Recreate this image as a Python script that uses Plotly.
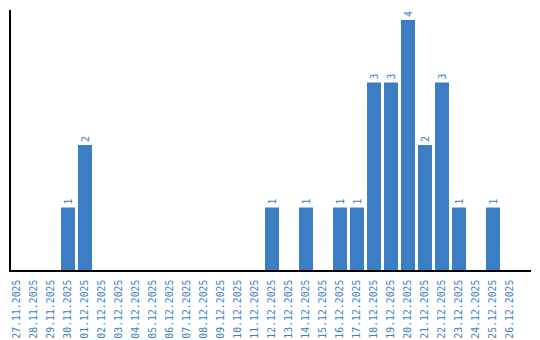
import plotly.graph_objects as go

dates = ["27.11.2025", "28.11.2025", "29.11.2025", "30.11.2025", "01.12.2025",
         "02.12.2025", "03.12.2025", "04.12.2025", "05.12.2025", "06.12.2025",
         "07.12.2025", "08.12.2025", "09.12.2025", "10.12.2025", "11.12.2025",
         "12.12.2025", "13.12.2025", "14.12.2025", "15.12.2025", "16.12.2025",
         "17.12.2025", "18.12.2025", "19.12.2025", "20.12.2025", "21.12.2025",
         "22.12.2025", "23.12.2025", "24.12.2025", "25.12.2025", "26.12.2025"]
counts = [0, 0, 0, 1, 2, 0, 0, 0, 0, 0, 0, 0, 0, 0, 0,
          1, 0, 1, 0, 1, 1, 3, 3, 4, 2, 3, 1, 0, 1, 0]

blue = "#3b7ec3"
labels = [str(v) if v > 0 else "" for v in counts]

fig = go.Figure(go.Bar(
    x=list(range(len(dates))), y=counts, marker_color=blue, marker_line_width=0,
    text=labels, textposition="outside", textangle=-90,
    textfont=dict(family="DejaVu Sans Mono", size=10, color=blue),
    cliponaxis=False, hoverinfo="skip",
))

fig.update_layout(
    width=540, height=340, margin=dict(l=11, r=9, t=10, b=70),
    paper_bgcolor="white", plot_bgcolor="white", showlegend=False,
    bargap=0.176,
    xaxis=dict(range=[-0.353, 30.235], tickmode="array",
               tickvals=list(range(len(dates))), ticktext=dates,
               tickangle=-90, ticks="outside", ticklen=4, automargin=False,
               tickcolor="rgba(0,0,0,0)", showgrid=False, zeroline=False,
               showline=True, linecolor="black", linewidth=1.5,
               tickfont=dict(family="DejaVu Sans Mono", size=9.8, color=blue)),
    yaxis=dict(range=[0, 4.16], showticklabels=False, ticks="", showgrid=False,
               automargin=False,
               zeroline=False, showline=True, linecolor="black", linewidth=1.5),
)

fig.write_html("out.html")
